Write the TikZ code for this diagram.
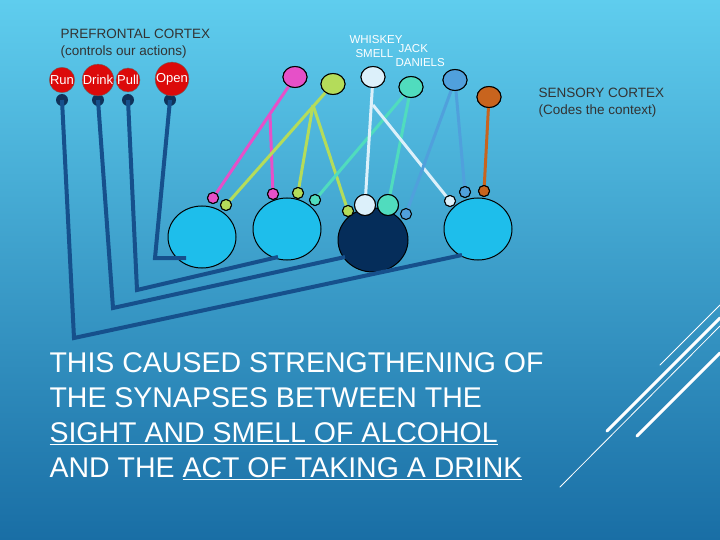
\documentclass[tikz,border=0pt]{standalone}
\usepackage{fontspec}
\setmainfont{Liberation Sans}
\usetikzlibrary{shapes.geometric}
\begin{document}
\begin{tikzpicture}[x=1pt,y=-1pt,
  bar/.style={line width=4pt,draw={rgb,255:red,22;green,80;blue,140}},
  big/.style={ellipse,draw=black,line width=1pt,fill={rgb,255:red,30;green,190;blue,235},minimum width=68pt,minimum height=62pt,inner sep=0},
  syn/.style={circle,draw=black,line width=1pt,minimum size=11pt,inner sep=0},
  top/.style={ellipse,draw=black,line width=1pt,minimum width=24pt,minimum height=21pt,inner sep=0},
  rednode/.style={circle,fill={rgb,255:red,220;green,10;blue,10},draw=black!60,minimum size=24pt,inner sep=0,text=white,font=\fontsize{13}{13}\selectfont},
  dot/.style={circle,fill={rgb,255:red,15;green,50;blue,90},minimum size=12pt,inner sep=0},
  ln/.style={line width=3pt},
  lab/.style={anchor=west,font=\fontsize{13.5}{17}\selectfont,align=left,text=black!80},
  wl/.style={white,line cap=round}]
\shade[top color={rgb,255:red,95;green,205;blue,238},bottom color={rgb,255:red,25;green,110;blue,165}] (0,0) rectangle (720,540);
\useasboundingbox (0,0) rectangle (720,540);
% diagonal lines
\draw[wl,line width=0.8pt] (660,365)--(720,305);
\draw[wl,line width=3pt] (607,431)--(720,318);
\draw[wl,line width=0.8pt] (560,487)--(720,326);
\draw[wl,line width=3pt] (637,436)--(720,353);
% text
\node[lab] (pfc) at (57,44) {PREFRONTAL CORTEX\\(controls our actions)};
\node[lab] (sc) at (535,103) {SENSORY CORTEX\\(Codes the context)};
\begin{scope}[white,font=\fontsize{11.5}{11.5}\selectfont]
\node[anchor=west] (wh) at (346,40) {WHISKEY};
\node[anchor=west] (ja) at (395,49) {JACK};
\node[anchor=west] (sm) at (352,54) {SMELL};
\node[anchor=west] (da) at (392,63) {DANIELS};
\end{scope}
% big circles
\node[big] (c1) at (202,237) {};
\node[big] (c2) at (287,229) {};
\node[big,fill={rgb,255:red,5;green,45;blue,90},minimum width=70pt,minimum height=64pt] (c3) at (373,240) {};
\node[big] (c4) at (478,229) {};
% red nodes & dots
\node[dot] (d1) at (62,100) {};
\node[dot] (d2) at (98,100) {};
\node[dot] (d3) at (128,100) {};
\node[dot] (d4) at (170,100) {};
\node[rednode] (run) at (62,80) {Run};
\node[rednode] (drink) at (98,80) {Drink};
\node[rednode] (pull) at (128,80) {Pull};
\node[rednode] (open) at (172,79) {Open};
% bars
\coordinate (b4) at (155,258); \coordinate (e4) at (186,258);
\coordinate (b3) at (137,290); \coordinate (e3) at (278,257);
\coordinate (b2) at (113,308); \coordinate (e2) at (345,257);
\coordinate (b1) at (74,338); \coordinate (e1) at (462,255);
\draw[bar] (d4.center)--(b4)--(e4);
\draw[bar] (d3.center)--(b3)--(e3);
\draw[bar] (d2.center)--(b2)--(e2);
\draw[bar] (d1.center)--(b1)--(e1);
% colors
\definecolor{cpk}{RGB}{230,80,200}
\definecolor{cgr}{RGB}{180,220,90}
\definecolor{cwh}{RGB}{220,240,250}
\definecolor{ctl}{RGB}{80,220,190}
\definecolor{cbl}{RGB}{80,160,220}
\definecolor{cor}{RGB}{200,100,30}
% top nodes
\node[top,fill=cpk] (tp) at (295,77) {};
\node[top,fill=cgr] (tg) at (333,84) {};
\node[top,fill=cwh] (tw) at (373,77) {};
\node[top,fill=ctl] (tt) at (411,87) {};
\node[top,fill=cbl] (tb) at (455,80) {};
\node[top,fill=cor] (to) at (489,97) {};
% synapses
\node[syn,fill=cpk] (s1) at (213,198) {};
\node[syn,fill=cgr] (s2) at (226,205) {};
\node[syn,fill=cpk] (s3) at (273,194) {};
\node[syn,fill=cgr] (s4) at (298,193) {};
\node[syn,fill=ctl] (s5) at (315,200) {};
\node[syn,fill=cgr] (s6) at (348,211) {};
\node[syn,fill=cwh,minimum size=21pt] (s7) at (365,205) {};
\node[syn,fill=ctl,minimum size=21pt] (s8) at (388,205) {};
\node[syn,fill=cbl,minimum size=10pt] (s9) at (406,214) {};
\node[syn,fill=cwh] (s10) at (450,201) {};
\node[syn,fill=cbl] (s11) at (465,192) {};
\node[syn,fill=cor] (s12) at (484,191) {};
% connectors
\coordinate (jp) at (270,115); \coordinate (jg) at (313,105); \coordinate (jw) at (373,105);
\draw[ln,cpk] (tp)--(s1); \draw[ln,cpk] (jp)--(s3);
\draw[ln,cgr] (tg)--(s2); \draw[ln,cgr] (jg)--(s4); \draw[ln,cgr] (jg)--(s6);
\draw[ln,ctl] (tt)--(s5); \draw[ln,ctl] (tt)--(s8);
\draw[ln,cwh] (tw)--(s7); \draw[ln,cwh] (jw)--(s10);
\draw[ln,cbl] (tb)--(s9); \draw[ln,cbl] (tb)--(s11);
\draw[ln,cor] (to)--(s12);
% redraw nodes on top of lines
\foreach \n/\c in {tp/cpk,tg/cgr,tw/cwh,tt/ctl,tb/cbl,to/cor}{\node[top,fill=\c] at (\n) {};}
\foreach \n/\c in {s1/cpk,s2/cgr,s3/cpk,s4/cgr,s5/ctl,s6/cgr,s9/cbl,s10/cwh,s11/cbl,s12/cor}{\node[syn,fill=\c] at (\n) {};}
\node[syn,fill=cwh,minimum size=21pt] at (s7) {};
\node[syn,fill=ctl,minimum size=21pt] at (s8) {};
% bottom text
\node[anchor=north west,white,align=left,font=\fontsize{28.5}{35}\selectfont] (bt) at (46,349) {THIS CAUSED STRENGTHENING OF\\THE SYNAPSES BETWEEN THE\\\underline{SIGHT AND SMELL OF ALCOHOL}\\AND THE \underline{ACT OF TAKING A DRINK}};
\end{tikzpicture}
\end{document}
